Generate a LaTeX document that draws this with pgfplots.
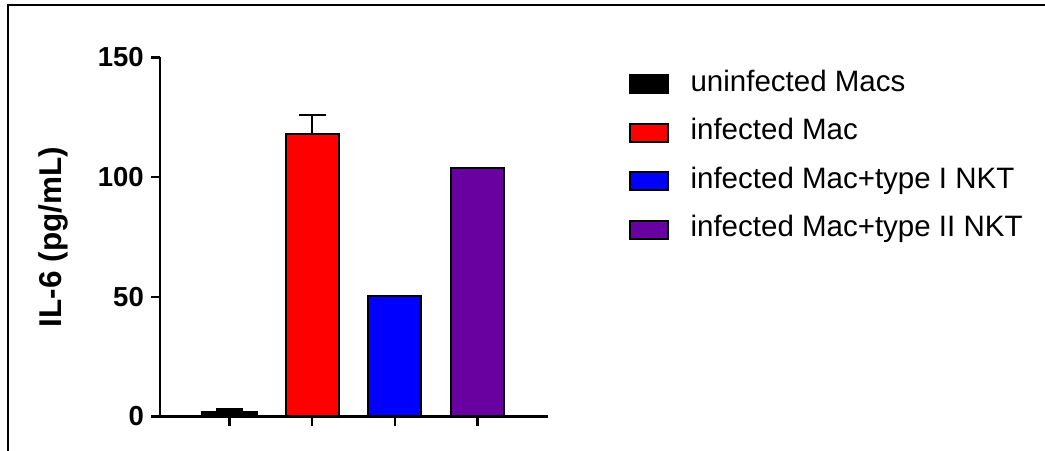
\documentclass[border=0pt]{standalone}
\usepackage{fontspec}
\setmainfont{Liberation Sans}
\usepackage{pgfplots}
\pgfplotsset{compat=1.18}
\definecolor{mypurple}{RGB}{105,0,160}
\begin{document}
\begin{tikzpicture}
\useasboundingbox (0,0) rectangle (1045bp,451bp);
\draw[line width=2.2bp] (8bp,0bp) -- (8bp,446bp) -- (1045bp,446bp);
\begin{axis}[
  at={(160bp,34.5bp)}, anchor=south west,
  scale only axis, width=388bp, height=359bp,
  xmin=-0.84, xmax=3.85, ymin=0, ymax=150,
  axis x line*=bottom, axis y line*=left,
  axis line style={line width=2.5bp},
  ytick={0,50,100,150}, xtick={0,1,2,3}, xticklabels={},
  tick align=outside, major tick length=9bp,
  tick style={line width=2.5bp, black},
  /pgf/number format/assume math mode=true,
  yticklabel style={font=\fontsize{27.5bp}{30bp}\selectfont\bfseries, inner sep=0pt, xshift=-7bp},
  ylabel={IL-6 (pg/mL)},
  ylabel style={font=\fontsize{31.5bp}{34bp}\selectfont\bfseries, at={(axis description cs:-0.237,0.5)}, anchor=south, inner sep=0pt},
  ybar, bar width=53bp, bar shift=0pt,
  every axis plot/.append style={draw=black, line width=2bp},
  legend cell align=left,
  legend image code/.code={\draw[#1, draw=black, line width=1.8bp] (0bp,-9bp) rectangle (38bp,9bp);},
  legend style={at={(axis description cs:1.2,0.971)}, anchor=north west, draw=none, fill=none,
    font=\fontsize{29.5bp}{32bp}\selectfont, row sep=20.5bp, column sep=0pt,
    nodes={inner sep=0pt, text height=21bp, text depth=7bp},
    /tikz/every odd column/.append style={column sep=22bp}},
  clip=false,
]
\addplot[fill=black, bar width=55bp, error bars/.cd, y dir=plus, y explicit, error bar style={line width=2.5bp}, error mark options={rotate=90, mark size=13.5bp, line width=2.5bp}] coordinates {(0,2) +- (0,1)};
\addplot[fill=red, error bars/.cd, y dir=plus, y explicit, error bar style={line width=2.5bp}, error mark options={rotate=90, mark size=13.5bp, line width=2.5bp}] coordinates {(1,118) +- (0,8)};
\addplot[fill=blue] coordinates {(2,50.5)};
\addplot[fill=mypurple] coordinates {(3,104)};
\legend{uninfected Macs, infected Mac, infected Mac+type I NKT, infected Mac+type II NKT}
\end{axis}
\end{tikzpicture}
\end{document}
